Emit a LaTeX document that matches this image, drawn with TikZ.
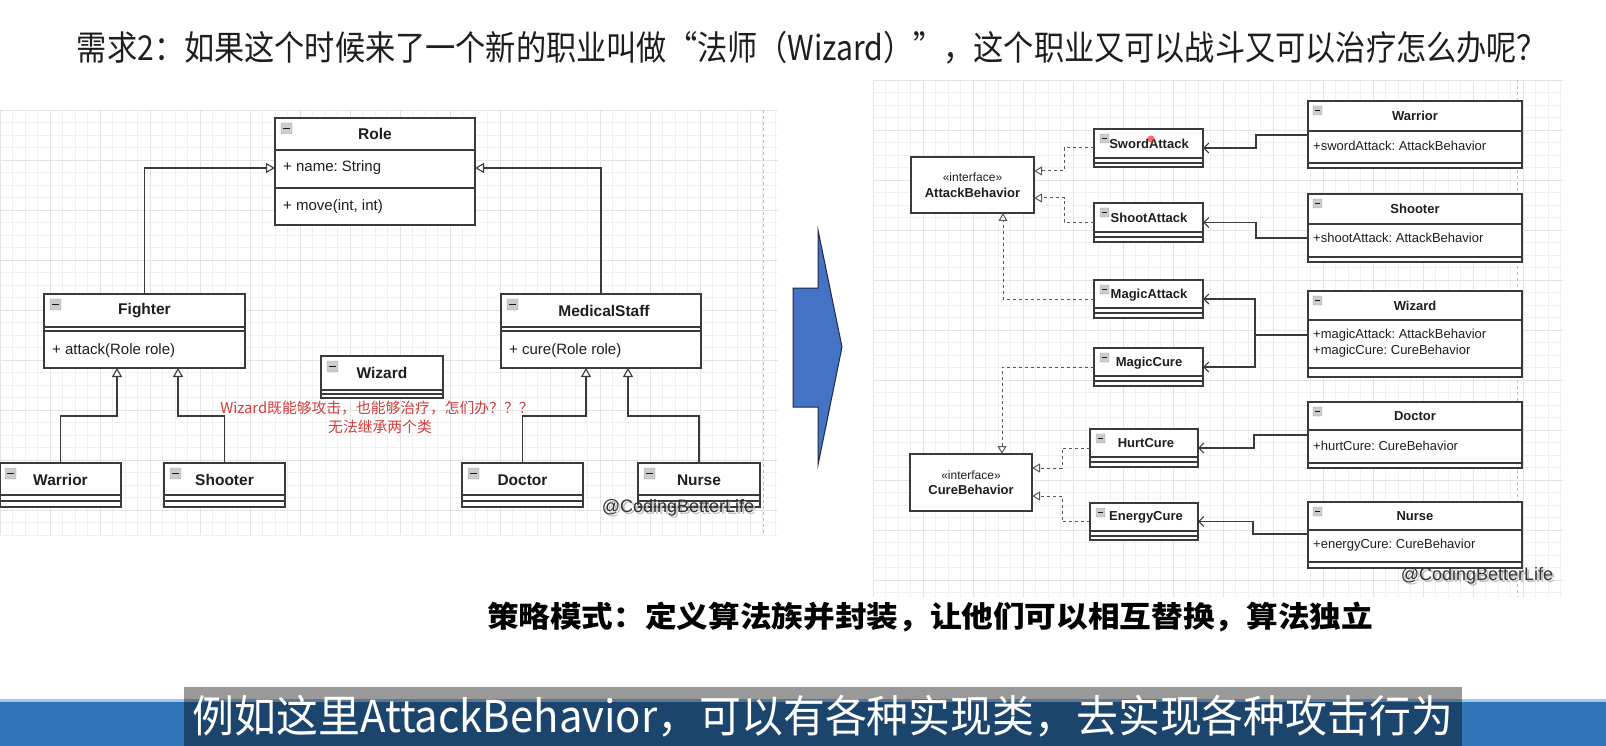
\documentclass[tikz,border=0pt]{standalone}
\usepackage{fontspec}
\setmainfont{Liberation Sans}
\newfontfamily\cjk{Noto Sans CJK SC}
\usetikzlibrary{arrows.meta,calc}
\definecolor{boxc}{HTML}{3A3A3A}
\definecolor{txtc}{HTML}{1E1E1E}
\definecolor{redc}{HTML}{D43C3C}
\definecolor{arrfill}{HTML}{4472C4}
\definecolor{arrline}{HTML}{1E2A44}
\definecolor{bandc}{HTML}{2E74B6}
\definecolor{bandlight}{HTML}{9CC8F0}
\newcommand{\ubox}[5]{\node[ubox, minimum width=#4pt-#2pt, minimum height=#5pt-#3pt] (#1) at (#2,#3) {};}
\newcommand{\hl}[3]{\draw[boxline] (#1,#3) -- (#2,#3);}
\newcommand{\icon}[3]{\draw[gray!70, fill=gray!40, rounded corners=1pt] (#1,#2) rectangle ++(#3,#3);
  \draw[gray!20!black, line width=0.9pt] ($(#1,#2)+(2,#3/2)$) -- ++(#3-4,0);}
\frenchspacing
\begin{document}
\begin{tikzpicture}[x=1pt,y=-1pt,
  ubox/.style={draw=boxc, line width=1.1pt, fill=white, anchor=north west, inner sep=0pt, outer sep=0pt},
  boxline/.style={draw=boxc, line width=1.1pt},
  gminor/.style={draw=black!6, line width=0.6pt},
  gmajor/.style={draw=black!11, line width=0.7pt},
  pbreak/.style={draw=black!25, line width=0.8pt, dash pattern=on 3pt off 3pt},
  ltitle/.style={font=\fontsize{15.5}{18}\selectfont\bfseries, text=txtc, inner sep=0pt},
  lattr/.style={font=\fontsize{15}{18}\selectfont, text=txtc, anchor=west, inner sep=0pt},
  rtitle/.style={font=\fontsize{13}{16}\selectfont\bfseries, text=txtc, inner sep=0pt},
  rattr/.style={font=\fontsize{13}{16}\selectfont, text=txtc, anchor=west, inner sep=0pt},
  rstereo/.style={font=\fontsize{12}{14}\selectfont, text=txtc, inner sep=0pt},
  inh/.style={draw=boxc, line width=1.1pt, -{Triangle[open,length=9pt,width=10pt]}},
  real/.style={draw=boxc!85, line width=1pt, dash pattern=on 3pt off 3pt, -{Triangle[open,length=8pt,width=9pt]}},
  assoc/.style={draw=boxc, line width=1.1pt, -{Straight Barb[length=5pt,width=10pt]}},
  assocl/.style={draw=boxc, line width=1.1pt},
  wm/.style={font=\fontsize{18}{20}\selectfont, text=black!80, inner sep=0pt}
]
\useasboundingbox (0,0) rectangle (1606,746);
\fill[white] (0,0) rectangle (1606,746);

% ---------- left grid panel ----------
\foreach \i in {0,...,62} {\draw[gminor] (\i*12.5,110) -- (\i*12.5,535);}
\foreach \j in {0,...,34} {\draw[gminor] (0,110+\j*12.5) -- (778,110+\j*12.5);}
\foreach \i in {0,...,15} {\draw[gmajor] (\i*50,110) -- (\i*50,535);}
\foreach \j in {0,...,8} {\draw[gmajor] (0,110+\j*50) -- (778,110+\j*50);}
\draw[pbreak] (763,110) -- (763,535);

% ---------- right grid panel ----------
\foreach \i in {0,...,55} {\draw[gminor] (873+\i*12.5,80) -- (873+\i*12.5,597);}
\foreach \j in {0,...,41} {\draw[gminor] (873,80+\j*12.5) -- (1563,80+\j*12.5);}
\foreach \i in {0,...,13} {\draw[gmajor] (873+\i*50,80) -- (873+\i*50,597);}
\foreach \j in {0,...,10} {\draw[gmajor] (873,80+\j*50) -- (1563,80+\j*50);}
\draw[pbreak] (1517,80) -- (1517,597);

% ---------- title ----------
\node[inner sep=0pt, text=txtc] (title) at (812,48) {\resizebox*{1470pt}{33pt}{\cjk 需求2：如果这个时候来了一个新的职业叫做“法师（Wizard）”，这个职业又可以战斗又可以治疗怎么办呢？}};

% ---------- left diagram ----------
\ubox{Role}{275}{118}{475}{225}
\hl{275}{475}{150} \hl{275}{475}{188}
\icon{281}{123}{11}
\node[ltitle] (RoleT) at (375,134) {Role};
\node[lattr] (RoleA) at (283,168) {+ name: String};
\node[lattr] (RoleM) at (283,207) {+ move(int, int)};

\ubox{Fighter}{44}{294}{245}{368}
\hl{44}{245}{327} \hl{44}{245}{331}
\icon{50}{299}{11}
\node[ltitle] (FighterT) at (144.5,311) {Fighter};
\node[lattr] (FighterM) at (52,351) {+ attack(Role role)};

\ubox{Medical}{501}{294}{701}{368}
\hl{501}{701}{327} \hl{501}{701}{331}
\icon{507}{299}{11}
\node[ltitle] (MedicalT) at (604,311) {MedicalStaff};
\node[lattr] (MedicalM) at (509,351) {+ cure(Role role)};

\ubox{WizardL}{321}{356}{443}{398}
\hl{321}{443}{390} \hl{321}{443}{394}
\icon{327}{361}{11}
\node[ltitle] (WizardLT) at (382,373) {Wizard};

\ubox{WarriorL}{0}{463}{121}{507}
\hl{0}{121}{495} \hl{0}{121}{501}
\icon{5}{468}{11}
\node[ltitle] (WarriorLT) at (60.5,480) {Warrior};

\ubox{ShooterL}{164}{463}{285}{507}
\hl{164}{285}{495} \hl{164}{285}{501}
\icon{170}{468}{11}
\node[ltitle] (ShooterLT) at (224.5,480) {Shooter};

\ubox{Doctor}{462}{463}{583}{507}
\hl{462}{583}{495} \hl{462}{583}{501}
\icon{468}{468}{11}
\node[ltitle] (DoctorT) at (522.5,480) {Doctor};

\ubox{Nurse}{638}{463}{760}{507}
\hl{638}{760}{495} \hl{638}{760}{501}
\icon{644}{468}{11}
\node[ltitle] (NurseT) at (699,480) {Nurse};

\draw[inh] (Fighter.north) |- ($(Role.north west)+(0,50)$);
\draw[inh] (Medical.north) |- ($(Role.north east)+(0,50)$);
\draw[inh] (WarriorL.north) -- ++(0,-47) -| ($(Fighter.south west)+(73,0)$);
\draw[inh] (ShooterL.north) -- ++(0,-47) -| ($(Fighter.south west)+(134,0)$);
\draw[inh] (Doctor.north) -- ++(0,-47) -| ($(Medical.south west)+(85,0)$);
\draw[inh] (Nurse.north) -- ++(0,-47) -| ($(Medical.south west)+(127,0)$);

\node[inner sep=0pt, text=redc, font=\cjk\fontsize{14.8}{16}\selectfont] (note1) at (377,408) {Wizard既能够攻击，也能够治疗，怎们办？？？};
\node[inner sep=0pt, text=redc, font=\cjk\fontsize{14.8}{16}\selectfont] (note2) at (380,427) {无法继承两个类};

\node[wm, text=black!25] (wmLs) at (680,510) {@CodingBetterLife};
\node[wm] (wmL) at (678,508) {@CodingBetterLife};

% ---------- blue arrow ----------
\draw[fill=arrfill, draw=arrline, line width=1pt, line join=miter]
  (793,288) -- (818,288) -- (818,230) -- (842,347) -- (818,465) -- (818,407) -- (793,407) -- cycle;

% ---------- right diagram ----------
\ubox{AB}{911}{157}{1034}{213}
\node[rstereo] (ABs) at (972.5,177) {«interface»};
\node[rtitle] (ABt) at (972.5,193) {AttackBehavior};

\ubox{CB}{910}{454}{1032}{511}
\node[rstereo] (CBs) at (971,475) {«interface»};
\node[rtitle] (CBt) at (971,490) {CureBehavior};

\ubox{Sword}{1094}{129}{1203}{167}
\hl{1094}{1203}{158} \hl{1094}{1203}{163}
\icon{1100}{134}{9}
\node[rtitle] (SwordT) at (1149,144) {SwordAttack};

\ubox{Shoot}{1094}{203}{1203}{242}
\hl{1094}{1203}{232} \hl{1094}{1203}{237}
\icon{1100}{208}{9}
\node[rtitle] (ShootT) at (1149,218) {ShootAttack};

\ubox{MagicA}{1094}{280}{1203}{318}
\hl{1094}{1203}{308} \hl{1094}{1203}{313}
\icon{1100}{285}{9}
\node[rtitle] (MagicAT) at (1149,295) {MagicAttack};

\ubox{MagicC}{1094}{348}{1203}{386}
\hl{1094}{1203}{376} \hl{1094}{1203}{381}
\icon{1100}{353}{9}
\node[rtitle] (MagicCT) at (1149,363) {MagicCure};

\ubox{Hurt}{1090}{429}{1198}{467}
\hl{1090}{1198}{457} \hl{1090}{1198}{462}
\icon{1096}{434}{9}
\node[rtitle] (HurtT) at (1146,443) {HurtCure};

\ubox{Energy}{1090}{503}{1198}{540}
\hl{1090}{1198}{531} \hl{1090}{1198}{536}
\icon{1096}{508}{9}
\node[rtitle] (EnergyT) at (1146,517) {EnergyCure};

\ubox{WarriorR}{1308}{101}{1522}{168}
\hl{1308}{1522}{131} \hl{1308}{1522}{163}
\icon{1313}{106}{9}
\node[rtitle] (WarriorRT) at (1415,116) {Warrior};
\node[rattr] (WarriorRA) at (1313,146) {+swordAttack: AttackBehavior};

\ubox{ShooterR}{1308}{194}{1522}{262}
\hl{1308}{1522}{224} \hl{1308}{1522}{257}
\icon{1313}{199}{9}
\node[rtitle] (ShooterRT) at (1415,209) {Shooter};
\node[rattr] (ShooterRA) at (1313,238) {+shootAttack: AttackBehavior};

\ubox{WizardR}{1308}{291}{1522}{377}
\hl{1308}{1522}{320} \hl{1308}{1522}{368}
\icon{1313}{296}{9}
\node[rtitle] (WizardRT) at (1415,306) {Wizard};
\node[rattr] (WizardRA) at (1313,335) {+magicAttack: AttackBehavior};
\node[rattr] (WizardRB) at (1313,351) {+magicCure: CureBehavior};

\ubox{DoctorR}{1308}{402}{1522}{468}
\hl{1308}{1522}{430} \hl{1308}{1522}{463}
\icon{1313}{407}{9}
\node[rtitle] (DoctorRT) at (1415,416) {Doctor};
\node[rattr] (DoctorRA) at (1313,446) {+hurtCure: CureBehavior};

\ubox{NurseR}{1308}{502}{1522}{568}
\hl{1308}{1522}{530} \hl{1308}{1522}{562}
\icon{1313}{507}{9}
\node[rtitle] (NurseRT) at (1415,516) {Nurse};
\node[rattr] (NurseRA) at (1313,545) {+energyCure: CureBehavior};

% realizations
\draw[real] (Sword.west) -- ++(-30,0) |- ($(AB.north east)+(0,14)$);
\draw[real] (Shoot.west) -- ++(-30,0) |- ($(AB.north east)+(0,41)$);
\draw[real] (MagicA.west) -| ($(AB.south west)+(92,0)$);
\draw[real] (MagicC.west) -| ($(CB.north west)+(92,0)$);
\draw[real] (Hurt.west) -- ++(-28,0) |- ($(CB.north east)+(0,14)$);
\draw[real] (Energy.west) -- ++(-28,0) |- ($(CB.north east)+(0,42)$);

% associations
\draw[assoc] ($(WarriorR.north west)+(0,34)$) -- ++(-52,0) |- (Sword.east);
\draw[assoc] ($(ShooterR.north west)+(0,44)$) -- ++(-52,0) |- (Shoot.east);
\coordinate (wj) at ($(WizardR.north west)+(-53,44)$);
\draw[assocl] ($(WizardR.north west)+(0,44)$) -- (wj);
\draw[assoc] (wj) |- (MagicA.east);
\draw[assoc] (wj) |- (MagicC.east);
\draw[assoc] ($(DoctorR.north west)+(0,33)$) -- ++(-54,0) |- (Hurt.east);
\draw[assoc] ($(NurseR.north west)+(0,32)$) -- ++(-55,0) |- (Energy.east);

% cursor highlight
\fill[red!80, opacity=0.75] (1151,139) circle (3.5);

\node[wm, text=black!25] (wmRs) at (1479,578) {@CodingBetterLife};
\node[wm] (wmR) at (1477,576) {@CodingBetterLife};

% ---------- bottom text ----------
\node[inner sep=0pt, text=black] (summary) at (930,617) {\resizebox*{886pt}{30pt}{\cjk\bfseries 策略模式：定义算法族并封装，让他们可以相互替换，算法独立}};

% ---------- subtitle bar ----------
\fill[bandc] (0,700) rectangle (1606,746);
\fill[bandlight] (0,699) rectangle (1606,702);
\fill[black, opacity=0.4] (184,687) rectangle (1462,746);
\node[inner sep=0pt, text=white] (subtitle) at (823,716) {\resizebox*{1260pt}{42pt}{\cjk 例如这里AttackBehavior，可以有各种实现类，去实现各种攻击行为}};
\end{tikzpicture}
\end{document}
